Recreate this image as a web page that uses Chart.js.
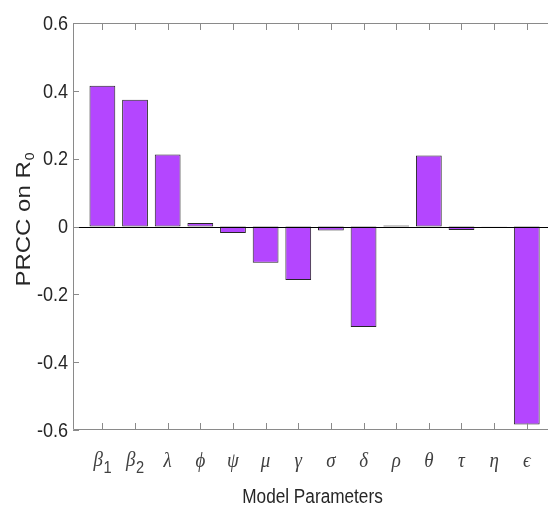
<!DOCTYPE html>
<html>
<head>
<meta charset="utf-8">
<script src="https://cdn.jsdelivr.net/npm/chart.js@4/dist/chart.umd.min.js"></script>
<style>
  html, body { margin: 0; padding: 0; background: #fff; overflow: hidden; }
</style>
</head>
<body>
<canvas id="graficoPRCC" width="548" height="508"></canvas>
<script>
// Parámetros del modelo (letra griega + subíndice) y su PRCC sobre R0
const categorias = ['β', 'β', 'λ', 'ϕ', 'ψ', 'μ', 'γ', 'σ', 'δ', 'ρ', 'θ', 'τ', 'η', 'ϵ'];
const subindices = ['1', '2', '', '', '', '', '', '', '', '', '', '', '', ''];
const valoresPRCC = [0.415, 0.374, 0.212, 0.010, -0.019, -0.107, -0.158, -0.012, -0.296, 0.003, 0.209, -0.010, -0.001, -0.584];
const ticksY = [-0.6, -0.4, -0.2, 0, 0.2, 0.4, 0.6];
const etiquetasY = ['-0.6', '-0.4', '-0.2', '0', '0.2', '0.4', '0.6'];

const fuenteSans = '"Liberation Sans", Arial, sans-serif';
const fuenteSerif = '"Liberation Serif", "DejaVu Serif", serif';
const colorEjes = '#8a8a8a';
const estrecho = 0.86; // la figura original está comprimida en horizontal

// texto comprimido horizontalmente
function textoEstrecho(ctx, txt, x, y, align) {
    ctx.save();
    ctx.translate(x, y);
    ctx.scale(estrecho, 1);
    ctx.textAlign = align;
    ctx.fillText(txt, 0, 0);
    ctx.restore();
}

// Marco estilo MATLAB: ejes, marcas hacia dentro, línea base y textos
const marco = {
    id: 'marco',
    afterDraw(chart) {
        const { ctx, chartArea: a, scales: { x, y } } = chart;
        ctx.save();

        // línea base en cero
        const y0 = Math.round(y.getPixelForValue(0)) + 0.5;
        ctx.strokeStyle = '#000';
        ctx.lineWidth = 1;
        ctx.beginPath();
        ctx.moveTo(a.left, y0);
        ctx.lineTo(a.right, y0);
        ctx.stroke();

        // ejes izquierdo, superior e inferior
        ctx.strokeStyle = colorEjes;
        ctx.beginPath();
        ctx.moveTo(a.right, a.top + 0.5);
        ctx.lineTo(a.left + 0.5, a.top + 0.5);
        ctx.lineTo(a.left + 0.5, a.bottom - 0.5);
        ctx.lineTo(a.right, a.bottom - 0.5);

        // marcas en x (arriba y abajo)
        categorias.forEach((c, i) => {
            const px = Math.round(x.getPixelForValue(i + 1)) + 0.5;
            ctx.moveTo(px, a.top);
            ctx.lineTo(px, a.top + 7);
            ctx.moveTo(px, a.bottom);
            ctx.lineTo(px, a.bottom - 7);
        });
        // marcas en y
        ticksY.forEach(v => {
            const py = Math.round(y.getPixelForValue(v)) + 0.5;
            ctx.moveTo(a.left, py);
            ctx.lineTo(a.left + 6, py);
        });
        ctx.stroke();

        // etiquetas del eje y
        ctx.fillStyle = '#262626';
        ctx.font = '21px ' + fuenteSans;
        ctx.textBaseline = 'middle';
        ticksY.forEach((v, i) => {
            textoEstrecho(ctx, etiquetasY[i], a.left - 5, y.getPixelForValue(v) + 1, 'right');
        });

        // etiquetas griegas del eje x
        ctx.fillStyle = '#404040';
        ctx.textBaseline = 'alphabetic';
        categorias.forEach((c, i) => {
            const px = x.getPixelForValue(i + 1);
            ctx.font = 'italic 22px ' + fuenteSerif;
            if (subindices[i]) {
                textoEstrecho(ctx, c, px + 0.5, 466, 'right');
                ctx.font = '17px ' + fuenteSans;
                textoEstrecho(ctx, subindices[i], px + 1, 473, 'left');
            } else {
                textoEstrecho(ctx, c, px, 467, 'center');
            }
        });

        // título del eje x
        ctx.fillStyle = '#262626';
        ctx.font = '20px ' + fuenteSans;
        textoEstrecho(ctx, 'Model Parameters', (a.left + a.right) / 2 + 2, 503, 'center');

        // título del eje y, girado, con subíndice
        ctx.translate(30, 220);
        ctx.scale(estrecho, 1);
        ctx.rotate(-Math.PI / 2);
        ctx.font = '24px ' + fuenteSans;
        const principal = 'PRCC on R';
        const wP = ctx.measureText(principal).width;
        ctx.font = '14px ' + fuenteSans;
        const wS = ctx.measureText('0').width;
        const inicio = -(wP + wS) / 2;
        ctx.textAlign = 'left';
        ctx.font = '24px ' + fuenteSans;
        ctx.fillText(principal, inicio, 0);
        ctx.font = '14px ' + fuenteSans;
        ctx.fillText('0', inicio + wP + 1, 5);

        ctx.restore();
    }
};

const ctx = document.getElementById('graficoPRCC').getContext('2d');
new Chart(ctx, {
    type: 'bar',
    data: {
        datasets: [{
            data: valoresPRCC.map((v, i) => ({ x: i + 1, y: v })),
            backgroundColor: '#B446FF',
            borderColor: '#262626',
            borderWidth: 1,
            borderSkipped: false,
            barPercentage: 0.79,
            categoryPercentage: 1
        }]
    },
    options: {
        responsive: false,
        animation: false,
        layout: { padding: { top: 23, right: 0, left: 0, bottom: 0 } },
        plugins: {
            legend: { display: false },
            tooltip: { enabled: false }
        },
        scales: {
            x: {
                type: 'linear',
                offset: false,
                min: 0.1,
                max: 14.65,
                grid: { display: false, drawTicks: false },
                border: { display: false },
                ticks: { display: false },
                afterFit: s => { s.height = 78; }
            },
            y: {
                min: -0.6,
                max: 0.6,
                afterBuildTicks: s => { s.ticks = ticksY.map(v => ({ value: v })); },
                grid: { display: false, drawTicks: false },
                border: { display: false },
                ticks: { display: false },
                afterFit: s => { s.width = 73; }
            }
        }
    },
    plugins: [marco]
});
</script>
</body>
</html>
